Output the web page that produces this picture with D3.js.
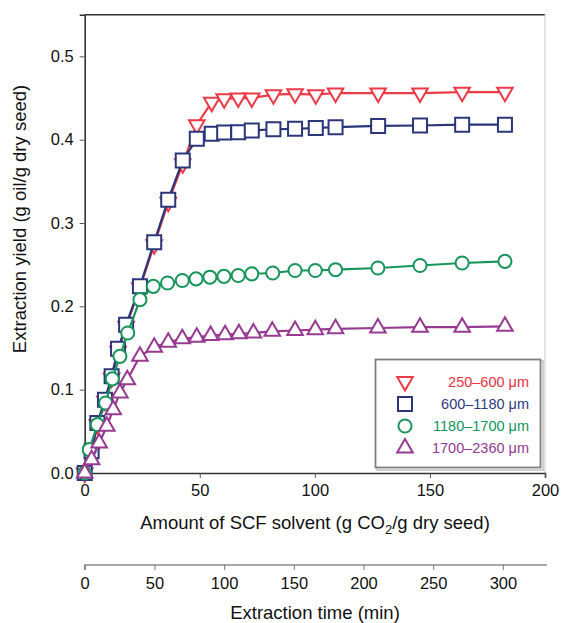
<!DOCTYPE html>
<html>
<head>
<meta charset="utf-8">
<script src="https://cdn.jsdelivr.net/npm/d3@7"></script>
<style>
  html, body { margin: 0; padding: 0; background: #fff; }
  svg { display: block; font-family: "Liberation Sans", Arial, Helvetica, sans-serif; }
</style>
</head>
<body>
<svg id="chart" width="563" height="623"></svg>
<script>
// ---- Data ----
const seriesNames = ["250\u2013600 \u03bcm", "600\u20131180 \u03bcm", "1180\u20131700 \u03bcm", "1700\u20132360 \u03bcm"];

const redX = [0, 3, 5.5, 8.8, 11.7, 14.5, 18, 24, 30.2, 36.3, 42.6, 48.7, 55.2, 60.6, 66.7, 72.6, 82, 91.4, 100.4, 109, 127.5, 145.7, 164, 182.6];
const redY = [0, 0.025, 0.058, 0.086, 0.114, 0.146, 0.176, 0.222, 0.274, 0.325, 0.371, 0.418, 0.445, 0.449, 0.450, 0.450, 0.454, 0.455, 0.454, 0.456, 0.456, 0.456, 0.457, 0.457];

const blueX = [0, 3, 5.5, 8.8, 11.7, 14.5, 18, 24, 30.2, 36.3, 42.6, 48.7, 55.2, 60.6, 66.7, 72.6, 82, 91.4, 100.4, 109, 127.5, 145.7, 164, 182.6];
const blueY = [0, 0.026, 0.060, 0.088, 0.116, 0.149, 0.178, 0.224, 0.277, 0.328, 0.375, 0.401, 0.407, 0.4085, 0.409, 0.411, 0.4125, 0.413, 0.414, 0.415, 0.4165, 0.417, 0.418, 0.418];

const greenX = [0, 2, 5.5, 9.1, 12, 15.3, 18.7, 24, 29.8, 36, 42.4, 48.4, 54.4, 60.5, 66.7, 72.6, 81.7, 91.4, 100.2, 109, 127.4, 145.7, 164, 182.6];
const greenY = [0, 0.028, 0.058, 0.084, 0.113, 0.140, 0.168, 0.208, 0.224, 0.228, 0.231, 0.233, 0.235, 0.236, 0.237, 0.239, 0.240, 0.243, 0.243, 0.244, 0.246, 0.249, 0.252, 0.254];

const purpleX = [0, 3, 6.3, 9.6, 12.4, 15.3, 18.5, 24, 30.2, 36.3, 42.4, 48.7, 54.7, 61, 67, 73.3, 81.5, 91.4, 100.2, 109, 127.4, 145.7, 164, 182.6];
const purpleY = [0, 0.016, 0.036, 0.056, 0.076, 0.096, 0.112, 0.140, 0.151, 0.157, 0.161, 0.163, 0.165, 0.166, 0.167, 0.168, 0.170, 0.171, 0.172, 0.173, 0.174, 0.175, 0.175, 0.176];

const xTicks = [0, 50, 100, 150, 200];
const yTicks = [0.0, 0.1, 0.2, 0.3, 0.4, 0.5];
const timeTicks = [0, 50, 100, 150, 200, 250, 300];

// ---- Layout ----
const svg = d3.select("#chart");
const mLeft = 84.7, mRight = 545, mTop = 14.7, mBottom = 473;
const x = d3.scaleLinear().domain([0, 200]).range([mLeft, mRight]);
const y = d3.scaleLinear().domain([0, 0.55]).range([mBottom, mTop]);
const xt = d3.scaleLinear().domain([0, 330.2]).range([mLeft, mRight]);

const colors = ["#ec3a47", "#2a3679", "#18955a", "#963a92"];
const textColors = ["#ea3240", "#2d3a80", "#12955a", "#8e3a91"];
const FONT = '"Liberation Sans", Arial, sans-serif';

// frame: top dark, right light
svg.append("line").attr("x1", mLeft).attr("x2", mRight).attr("y1", mTop).attr("y2", mTop)
  .attr("stroke", "#333").attr("stroke-width", 1.6);
svg.append("line").attr("x1", mRight).attr("x2", mRight).attr("y1", mTop).attr("y2", mBottom)
  .attr("stroke", "#cfcfcf").attr("stroke-width", 1.2);

// axes
const xAxis = svg.append("g").attr("transform", `translate(0,${mBottom})`)
  .call(d3.axisBottom(x).tickValues(xTicks).tickSize(5).tickPadding(6).tickFormat(d3.format("d")));
const yAxis = svg.append("g").attr("transform", `translate(${mLeft},0)`)
  .call(d3.axisLeft(y).tickValues(yTicks).tickSize(5).tickPadding(6).tickFormat(d3.format(".1f")));
[xAxis, yAxis].forEach(g => {
  g.select(".domain").attr("stroke", "#333").attr("stroke-width", 1.6);
  g.selectAll(".tick line").attr("stroke", "#555");
  g.selectAll(".tick text").attr("font-size", 16.5).attr("fill", "#111").attr("font-family", FONT);
});

// secondary time axis
const tAxis = svg.append("g").attr("transform", `translate(0,565)`)
  .call(d3.axisBottom(xt).tickValues(timeTicks).tickSize(5).tickPadding(7).tickFormat(d3.format("d")));
tAxis.select(".domain").attr("stroke", "#8a8a8a").attr("stroke-width", 1.4)
  .attr("d", `M${mLeft},5V0H${mRight + 2}`);
tAxis.selectAll(".tick line").attr("stroke", "#777");
tAxis.selectAll(".tick text").attr("font-size", 16.5).attr("fill", "#111").attr("font-family", FONT);

// axis titles
const xTitle = svg.append("text").attr("x", 315).attr("y", 529)
  .attr("text-anchor", "middle").attr("font-size", 18.5).attr("fill", "#111").attr("font-family", FONT);
xTitle.append("tspan").text("Amount of SCF solvent (g CO");
xTitle.append("tspan").attr("font-size", 13).attr("dy", 5).text("2");
xTitle.append("tspan").attr("dy", -5).text("/g dry seed)");

svg.append("text").attr("x", 315).attr("y", 619).attr("text-anchor", "middle")
  .attr("font-size", 18.5).attr("fill", "#111").attr("font-family", FONT).text("Extraction time (min)");

svg.append("text").attr("transform", `translate(26,219) rotate(-90)`)
  .attr("text-anchor", "middle").attr("font-size", 18.5).attr("fill", "#111").attr("font-family", FONT)
  .text("Extraction yield (g oil/g dry seed)");

// ---- Series ----
const series = [
  { xs: redX, ys: redY, sym: d3.symbolTriangle, size: 105, rot: 180 },
  { xs: blueX, ys: blueY, sym: d3.symbolSquare, size: 196, rot: 0 },
  { xs: greenX, ys: greenY, sym: d3.symbolCircle, size: 135, rot: 0 },
  { xs: purpleX, ys: purpleY, sym: d3.symbolTriangle, size: 105, rot: 0 }
];

const line = d3.line().x(d => x(d[0])).y(d => y(d[1]));

series.forEach((s, i) => {
  const pts = s.xs.map((v, j) => [v, s.ys[j]]);
  const g = svg.append("g");
  g.append("path").attr("d", line(pts)).attr("fill", "none")
    .attr("stroke", colors[i]).attr("stroke-width", 2.2);
  const sp = d3.symbol().type(s.sym).size(s.size)();
  g.selectAll("path.m").data(pts).join("path").attr("class", "m")
    .attr("d", sp)
    .attr("transform", d => `translate(${x(d[0])},${y(d[1])}) rotate(${s.rot})`)
    .attr("fill", "#fff").attr("stroke", colors[i]).attr("stroke-width", 2);
});

// ---- Legend ----
const lg = svg.append("g");
lg.append("rect").attr("x", 377).attr("y", 361).attr("width", 166).attr("height", 109)
  .attr("fill", "none").attr("stroke", "#d0d0d0").attr("stroke-width", 2);
lg.append("rect").attr("x", 375.5).attr("y", 359.5).attr("width", 165).attr("height", 108)
  .attr("fill", "#fff").attr("stroke", "#7f7f7f").attr("stroke-width", 1.8);
const rowY = [381.5, 404, 426, 448];
series.forEach((s, i) => {
  const sp = d3.symbol().type(s.sym).size(s.size)();
  lg.append("path").attr("d", sp)
    .attr("transform", `translate(405,${rowY[i]}) rotate(${s.rot})`)
    .attr("fill", "#fff").attr("stroke", colors[i]).attr("stroke-width", 2);
  lg.append("text").attr("x", 529).attr("y", rowY[i] + 5).attr("text-anchor", "end")
    .attr("font-size", 14.5).attr("fill", textColors[i]).attr("font-family", FONT).text(seriesNames[i]);
});
</script>
</body>
</html>
